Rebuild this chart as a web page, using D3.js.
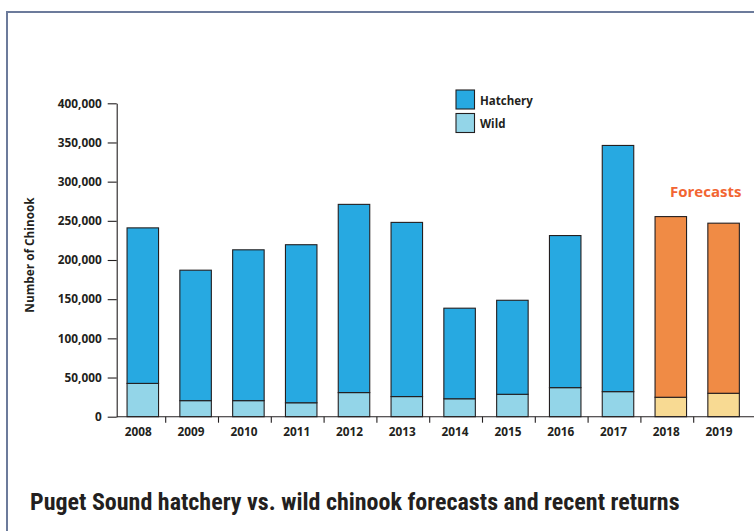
<!DOCTYPE html>
<html>
<head>
<meta charset="utf-8">
<script src="https://cdn.jsdelivr.net/npm/d3@7"></script>
<style>
  body { margin: 0; background: #fff; }
  text { font-family: "Open Sans", "Liberation Sans", sans-serif; fill: #231f20; }
</style>
</head>
<body>
<script>
// chart values
const years = ["2008", "2009", "2010", "2011", "2012", "2013", "2014", "2015", "2016", "2017", "2018", "2019"]
const wild = [42500, 20500, 20500, 17800, 30800, 25700, 22900, 28600, 37100, 32000, 24800, 29900]
const hatchery = [198500, 166500, 192500, 201700, 240200, 222300, 115600, 120000, 194100, 314200, 230600, 217100]
const forecastYears = ["2018", "2019"]
const yTicks = [0, 50000, 100000, 150000, 200000, 250000, 300000, 350000, 400000]
const legendItems = ["Hatchery", "Wild"]

let width = 754, height = 531

let svg = d3.select("body").append("svg")
    .attr("width", width)
    .attr("height", height)

// frame round the figure (runs off the right and bottom edges)
svg.append("rect")
  .attr("x", 7).attr("y", 12)
  .attr("width", 800).attr("height", 600)
  .attr("fill", "none")
  .attr("stroke", "#6c7b9b")
  .attr("stroke-width", 2)

let x = d3.scaleBand()
  .domain(years)
  .range([116.4, 116.4 + 52.8 * years.length])
let barW = 31.5

let y = d3.scaleLinear()
  .domain([0, 400000])
  .range([416.7, 103.3])

let rows = years.map((yr, i) => ({
  year: yr,
  wild: wild[i],
  hatchery: hatchery[i],
  forecast: forecastYears.includes(yr)
}))

let stack = d3.stack().keys(["wild", "hatchery"])(rows)

let colors = {
  wild: ["#93d5e8", "#f8da93"],
  hatchery: ["#27a9e1", "#f08b45"]
}

stack.forEach(layer => {
  svg.append("g").selectAll("rect")
    .data(layer)
    .enter()
    .append("rect")
    .attr("x", d => x(d.data.year) + (x.bandwidth() - barW) / 2)
    .attr("y", d => y(d[1]))
    .attr("width", barW)
    .attr("height", d => y(d[0]) - y(d[1]))
    .attr("fill", d => colors[layer.key][d.data.forecast ? 1 : 0])
    .attr("stroke", "#231f20")
    .attr("stroke-width", 1.1)
})

// y axis
let yAxis = svg.append("g")
  .attr("transform", "translate(116.7,0)")
  .call(d3.axisLeft(y).tickValues(yTicks).tickFormat(d3.format(",")).tickSize(9).tickSizeOuter(0).tickPadding(6))
yAxis.selectAll("path, line").attr("stroke", "#231f20").attr("stroke-width", 1.1)
yAxis.selectAll("text")
  .attr("font-size", 11.8).attr("font-weight", 700)
  .style("font-family", "'Open Sans', sans-serif")

// x axis line, separators between years, year labels
svg.append("line")
  .attr("x1", 116.7).attr("x2", 754)
  .attr("y1", y(0)).attr("y2", y(0))
  .attr("stroke", "#231f20").attr("stroke-width", 1.1)

svg.append("g").selectAll("line")
  .data(years.slice(1))
  .enter()
  .append("line")
  .attr("x1", d => x(d) - 3.5).attr("x2", d => x(d) - 3.5)
  .attr("y1", y(0)).attr("y2", y(0) + 6)
  .attr("stroke", "#231f20").attr("stroke-width", 1.1)

svg.append("g").selectAll("text")
  .data(years)
  .enter()
  .append("text")
  .attr("x", d => x(d) + x.bandwidth() / 2 - 4.5)
  .attr("y", 436)
  .attr("text-anchor", "middle")
  .attr("font-size", 11.8)
  .attr("font-weight", 700)
  .text(d => d)

// axis title
svg.append("text")
  .attr("transform", "translate(34,255) rotate(-90)")
  .attr("text-anchor", "middle")
  .attr("font-size", 11.8)
  .attr("font-weight", 700)
  .text("Number of Chinook")

// legend
let legend = svg.append("g").selectAll("g")
  .data(legendItems)
  .enter()
  .append("g")
  .attr("transform", (d, i) => `translate(456,${90 + i * 23.5})`)
legend.append("rect")
  .attr("width", 18.5).attr("height", 19)
  .attr("fill", d => colors[d.toLowerCase()][0])
  .attr("stroke", "#231f20").attr("stroke-width", 1.1)
legend.append("text")
  .attr("x", 24).attr("y", 14.5)
  .attr("font-size", 11.5)
  .attr("font-weight", 700)
  .text(d => d)

// forecasts note
svg.append("text")
  .attr("x", 670).attr("y", 197)
  .attr("font-size", 15)
  .attr("font-weight", 700)
  .style("font-family", "'Liberation Sans Narrow', 'Open Sans', sans-serif")
  .style("fill", "#f26532")
  .text("Forecasts")

// title
svg.append("text")
  .attr("x", 30).attr("y", 510)
  .attr("font-size", 24)
  .attr("font-weight", 700)
  .style("font-family", "'Liberation Sans Narrow', 'Roboto Condensed', sans-serif")
  .text("Puget Sound hatchery vs. wild chinook forecasts and recent returns")
</script>
</body>
</html>
